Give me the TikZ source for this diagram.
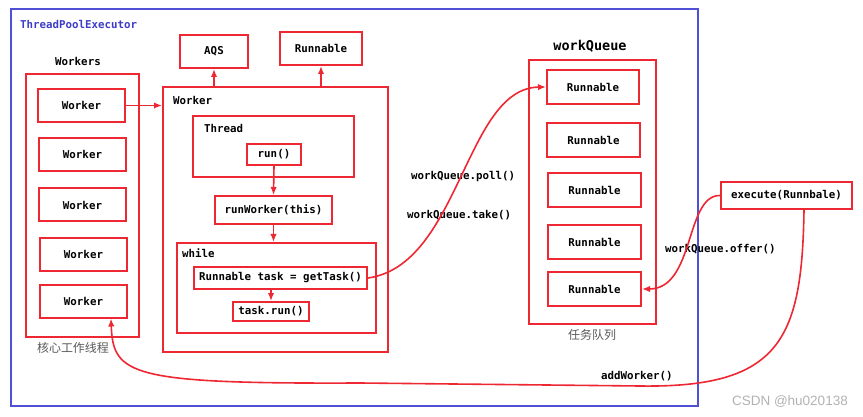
\documentclass[tikz,border=0pt]{standalone}
\usepackage{fontspec}
\setmonofont{DejaVu Sans Mono}
\newfontfamily\cjkfont{Noto Sans CJK SC}
\newfontfamily\markfont{Liberation Sans}
\usetikzlibrary{arrows.meta,calc}
\definecolor{boxred}{RGB}{238,40,50}
\definecolor{frameblue}{RGB}{80,80,215}
\definecolor{labelblue}{RGB}{60,60,200}
\tikzset{
  box/.style={draw=boxred, line width=2pt, inner sep=0pt, font=\ttfamily\bfseries\fontsize{10.8}{12}\selectfont},
  tag/.style={anchor=west, inner sep=0pt, font=\ttfamily\bfseries\fontsize{10.8}{12}\selectfont},
  cjktag/.style={inner sep=0pt, text=black!65, font=\cjkfont\fontsize{12}{14}\selectfont},
  link/.style={draw=boxred, line width=1.6pt, -{Latex[length=8pt,width=6.5pt]}},
}
\begin{document}
\begin{tikzpicture}[x=1pt, y=-1pt]
			%%%%% START %%%%%
			\useasboundingbox (0,0) rectangle (863,417);
			
			\node[draw=frameblue, line width=1.8pt, minimum width=687, minimum height=397] (tpe) at (354.5,207.5) {};
			\node[tag, text=labelblue] (tpelabel) at (20,24) {ThreadPoolExecutor};
			
			\node[box, minimum width=68, minimum height=33] (aqs) at (214,51.5) {AQS};
			\node[box, minimum width=82, minimum height=33] (rtop) at (321,48.5) {Runnable};
			
			% workers set
			\node[tag, anchor=center] (workerslabel) at (78,61) {Workers};
			\node[box, minimum width=113, minimum height=263] (workers) at (82.5,205.5) {};
			\node[box, minimum width=87, minimum height=33] (w1) at (81.5,105.5) {Worker};
			\node[box, minimum width=87, minimum height=33] (w2) at (82.5,154.5) {Worker};
			\node[box, minimum width=87, minimum height=33] (w3) at (82.5,205) {Worker};
			\node[box, minimum width=87, minimum height=33] (w4) at (83.5,254.5) {Worker};
			\node[box, minimum width=87, minimum height=33] (w5) at (83.5,301) {Worker};
			\node[cjktag] (corelabel) at (73,348) {核心工作线程};
			
			% one worker
			\node[box, minimum width=225, minimum height=265] (worker) at (275.5,219.5) {};
			\node[tag] (workerlabel) at (173,100) {Worker};
			\node[box, minimum width=161, minimum height=61] (thread) at (273.5,146.5) {};
			\node[tag] (threadlabel) at (204,128) {Thread};
			\node[box, minimum width=54, minimum height=21] (run) at (274,154.5) {run()};
			\node[box, minimum width=117, minimum height=28] (runworker) at (273.5,210) {runWorker(this)};
			\node[box, minimum width=199, minimum height=90] (while) at (276.5,288) {};
			\node[tag] (whilelabel) at (182,253) {while};
			\node[box, minimum width=173, minimum height=22] (gettask) at (280.5,278) {Runnable task = getTask()};
			\node[box, minimum width=76, minimum height=19] (taskrun) at (271,311.5) {task.run()};
			
			% queue
			\node[tag, anchor=center, font=\ttfamily\bfseries\fontsize{13.5}{15}\selectfont] (wqlabel) at (590,46) {workQueue};
			\node[box, minimum width=127, minimum height=264] (wq) at (592.5,192) {};
			\node[box, minimum width=92, minimum height=34] (r1) at (593,87) {Runnable};
			\node[box, minimum width=93, minimum height=34] (r2) at (593.5,140) {Runnable};
			\node[box, minimum width=93, minimum height=34] (r3) at (594.5,190) {Runnable};
			\node[box, minimum width=93, minimum height=34] (r4) at (594.5,242) {Runnable};
			\node[box, minimum width=93, minimum height=34] (r5) at (594.5,289) {Runnable};
			\node[cjktag] (tasklabel) at (592,335) {任务队列};
			
			\node[box, minimum width=131, minimum height=27] (exec) at (786.5,195.5) {execute(Runnbale)};
			
			\node[tag] (polllabel) at (411,177) {workQueue.poll()};
			\node[tag] (takelabel) at (407,215) {workQueue.take()};
			\node[tag] (offerlabel) at (665,249) {workQueue.offer()};
			\node[tag] (addlabel) at (601,376) {addWorker()};
			
			\node[anchor=east, inner sep=0pt, text=black!30, font=\markfont\fontsize{13.5}{15}\selectfont] (mark) at (848,402) {CSDN @hu020138};
			
			% connectors
			\draw[link] (w1.east) -- (w1.east -| worker.west);
			\draw[link] (aqs.south |- worker.north) -- (aqs.south);
			\draw[link] (rtop.south |- worker.north) -- (rtop.south);
			\draw[link] (run.south) -- (runworker.north);
			\draw[link] (runworker.south) -- (runworker.south |- while.north);
			\draw[link] (taskrun.north |- gettask.south) -- (taskrun.north);
			\draw[link] (gettask.east) .. controls (460,265) and (465,88) .. (r1.west);
			\draw[link] (exec.west) .. controls (685,195) and (695,289) .. (r5.east);
			\draw[link] ($(exec.south)+(17.5,0)$) .. controls (802,340) and (780,388) .. (640,386)
				-- (360,383) .. controls (130,384) and (113,375) .. ($(w5.south)+(27.5,0)$);
			
			%%%%% END %%%%%
\end{tikzpicture}
\end{document}
